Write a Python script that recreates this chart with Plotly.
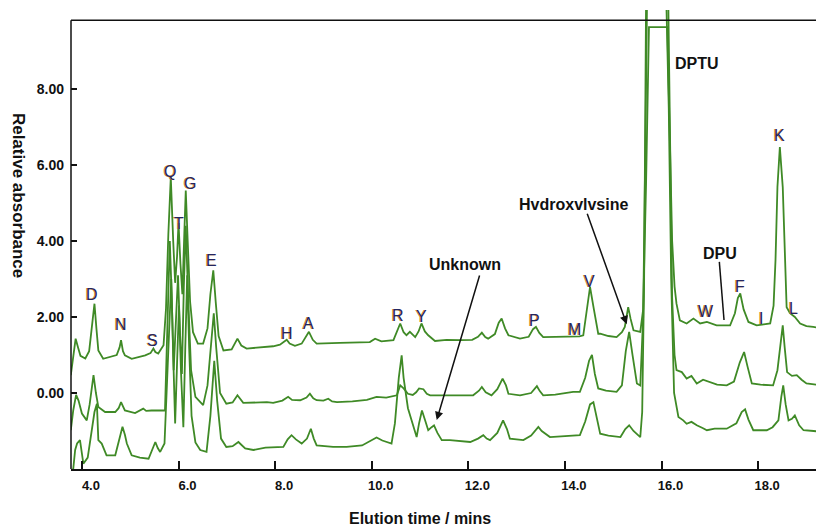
import plotly.graph_objects as go

# ---------------- data (elution time in min, relative absorbance) ----------------
t1_x = [3.77, 3.82, 3.87, 3.92, 3.97, 4.07, 4.15, 4.22, 4.26, 4.30, 4.34, 4.44, 4.61, 4.72, 4.78, 4.81,
        4.85, 4.89, 5.03, 5.15, 5.31, 5.42, 5.48, 5.52, 5.58, 5.69, 5.74, 5.79, 5.84, 5.89, 5.93, 5.97,
        6.00, 6.04, 6.08, 6.12, 6.15, 6.19, 6.24, 6.30, 6.40, 6.51, 6.60, 6.66, 6.72, 6.77, 6.83, 6.93,
        7.10, 7.22, 7.30, 7.41, 7.76, 7.96, 8.10, 8.24, 8.30, 8.41, 8.55, 8.70, 8.78, 8.86, 9.34, 9.70,
        9.96, 10.07, 10.20, 10.45, 10.52, 10.59, 10.66, 10.72, 10.79, 10.90, 10.97, 11.03, 11.10, 11.17,
        11.31, 11.55, 11.83, 12.08, 12.20, 12.28, 12.35, 12.41, 12.55, 12.63, 12.69, 12.76, 12.83, 13.07,
        13.25, 13.34, 13.40, 13.47, 13.55, 14.30, 14.38, 14.45, 14.52, 14.60, 14.69, 14.73, 14.90, 15.07,
        15.18, 15.24, 15.31, 15.36, 15.42, 15.56, 15.62, 15.68, 15.74, 16.12, 16.16, 16.22, 16.27, 16.31,
        16.38, 16.52, 16.66, 16.80, 16.94, 17.14, 17.42, 17.52, 17.58, 17.63, 17.70, 17.80, 17.97, 18.10,
        18.25, 18.32, 18.36, 18.40, 18.45, 18.51, 18.55, 18.59, 18.66, 18.76, 18.87, 19.00, 19.14, 19.36]
t1_y = [0.47, 1.00, 1.43, 1.20, 0.98, 0.91, 1.10, 1.90, 2.35, 1.70, 1.12, 0.90, 0.95, 1.00, 1.20, 1.39,
        1.10, 0.99, 0.90, 0.93, 0.99, 1.05, 1.17, 1.08, 1.04, 1.26, 2.20, 4.20, 5.68, 4.00, 2.90, 3.60,
        4.47, 3.40, 2.60, 4.20, 5.33, 4.00, 2.40, 1.60, 1.30, 1.30, 1.70, 2.60, 3.23, 2.40, 1.50, 1.12,
        1.15, 1.43, 1.25, 1.17, 1.21, 1.23, 1.27, 1.40, 1.30, 1.24, 1.30, 1.61, 1.40, 1.30, 1.32, 1.33,
        1.34, 1.43, 1.36, 1.39, 1.60, 1.83, 1.60, 1.52, 1.61, 1.47, 1.62, 1.83, 1.62, 1.52,
        1.37, 1.40, 1.39, 1.40, 1.48, 1.59, 1.47, 1.43, 1.55, 1.85, 1.96, 1.70, 1.52, 1.43,
        1.48, 1.68, 1.74, 1.58, 1.47, 1.49, 1.52, 2.20, 2.79, 2.20, 1.56, 1.56, 1.50, 1.47,
        1.60, 1.74, 2.26, 1.95, 1.65, 1.61, 2.20, 5.50, 9.63, 9.63, 7.00, 4.00, 2.80, 2.35,
        1.91, 1.83, 1.96, 1.83, 1.87, 1.78, 1.78, 2.10, 2.50, 2.62, 2.20, 1.87, 1.78, 1.80,
        1.83, 2.30, 3.50, 5.42, 6.47, 5.42, 3.60, 2.26, 2.10, 2.00, 1.83, 1.76, 1.74, 1.69]

t2_x = [3.77, 3.82, 3.88, 3.93, 4.00, 4.10, 4.16, 4.24, 4.29, 4.34, 4.48, 4.69, 4.76, 4.81, 4.86, 4.89,
        5.10, 5.20, 5.27, 5.33, 5.44, 5.72, 5.77, 5.82, 5.86, 5.90, 5.95, 5.99, 6.03, 6.07, 6.11, 6.15,
        6.20, 6.26, 6.35, 6.51, 6.60, 6.67, 6.73, 6.78, 6.86, 6.99, 7.12, 7.22, 7.34, 7.83, 7.96, 8.15,
        8.27, 8.35, 8.52, 8.65, 8.72, 8.79, 8.86, 9.00, 9.10, 9.18, 9.28, 9.60, 9.90, 10.10, 10.30, 10.52,
        10.59, 10.66, 10.75, 10.85, 10.92, 10.98, 11.07, 11.14, 11.21, 11.60, 12.10, 12.22, 12.28, 12.36,
        12.48, 12.60, 12.71, 12.78, 12.83, 13.07, 13.30, 13.42, 13.48, 13.55, 13.80, 14.17, 14.31, 14.42,
        14.50, 14.56, 14.62, 14.69, 14.85, 15.07, 15.18, 15.26, 15.33, 15.40, 15.49, 15.56, 15.62, 15.66,
        15.70, 16.14, 16.18, 16.22, 16.27, 16.31, 16.42, 16.52, 16.62, 16.73, 16.86, 17.00, 17.15, 17.35,
        17.50, 17.62, 17.71, 17.78, 17.87, 18.05, 18.31, 18.40, 18.47, 18.51, 18.55, 18.60, 18.70, 18.80,
        18.90, 19.00, 19.20, 19.36]
t2_y = [-0.98, -0.46, -0.05, -0.20, -0.54, -0.72, -0.30, 0.47, 0.00, -0.37, -0.50, -0.50, -0.40, -0.24, -0.38, -0.46,
        -0.53, -0.47, -0.41, -0.47, -0.46, -0.46, 1.50, 4.00, 2.50, 0.60, 2.00, 3.10, 1.60, 0.50, 2.80, 4.40,
        2.50, 0.60, -0.10, -0.32, 0.20, 1.30, 2.10, 1.20, 0.00, -0.28, -0.25, -0.06, -0.26, -0.24, -0.26, -0.20,
        -0.10, -0.18, -0.19, -0.12, -0.02, -0.14, -0.19, -0.20, -0.15, -0.22, -0.24, -0.22, -0.18, -0.10, -0.12, -0.06,
        0.20, 0.12, -0.02, -0.05, 0.02, 0.12, 0.10, -0.02, -0.06, -0.06, -0.06, 0.06, 0.16, 0.02,
        -0.06, 0.10, 0.38, 0.20, -0.02, -0.06, 0.00, 0.18, 0.05, -0.06, -0.04, 0.03, 0.03, 0.40,
        0.85, 1.00, 0.50, 0.12, 0.06, 0.03, 0.20, 1.10, 1.61, 1.00, 0.25, 0.20, 2.00, 6.00,
        10.30, 10.30, 6.00, 2.50, 1.00, 0.60, 0.55, 0.38, 0.45, 0.25, 0.35, 0.29, 0.22, 0.20,
        0.30, 0.80, 1.08, 0.70, 0.25, 0.22, 0.20, 0.60, 1.40, 1.78, 1.20, 0.55, 0.45, 0.47,
        0.35, 0.25, 0.22, 0.20]

t3_x = [3.77, 3.82, 3.86, 3.90, 3.96, 4.00, 4.03, 4.12, 4.20, 4.26, 4.31, 4.34, 4.41, 4.51, 4.69, 4.76,
        4.84, 4.89, 4.93, 5.03, 5.20, 5.38, 5.46, 5.52, 5.57, 5.62, 5.71, 5.76, 5.81, 5.85, 5.89, 5.93,
        5.97, 6.01, 6.05, 6.10, 6.14, 6.18, 6.22, 6.27, 6.35, 6.45, 6.58, 6.66, 6.74, 6.80, 6.88, 6.99,
        7.12, 7.24, 7.38, 7.55, 7.80, 8.17, 8.26, 8.34, 8.43, 8.55, 8.66, 8.74, 8.80, 8.86, 9.20, 9.48,
        9.80, 10.00, 10.10, 10.22, 10.41, 10.48, 10.56, 10.62, 10.66, 10.75, 10.86, 10.93, 10.98, 11.04,
        11.10, 11.17, 11.24, 11.29, 11.36, 11.45, 11.62, 12.04, 12.20, 12.31, 12.38, 12.45, 12.60, 12.72,
        12.80, 12.86, 13.14, 13.30, 13.45, 13.52, 13.69, 13.90, 14.31, 14.42, 14.52, 14.59, 14.66, 14.73,
        14.90, 15.15, 15.25, 15.33, 15.42, 15.50, 15.56, 15.60, 15.64, 15.68, 16.10, 16.15, 16.20, 16.26,
        16.35, 16.45, 16.52, 16.62, 16.73, 16.85, 16.94, 17.10, 17.35, 17.55, 17.66, 17.73, 17.80, 17.90,
        18.05, 18.18, 18.30, 18.42, 18.48, 18.52, 18.57, 18.63, 18.70, 18.76, 18.85, 18.94, 19.15, 19.36]
t3_y = [-2.30, -2.00, -1.50, -1.33, -1.24, -1.60, -1.86, -1.70, -1.00, -0.50, -0.28, -1.24, -1.33, -1.64, -1.64, -1.30,
        -0.89, -1.10, -1.33, -1.64, -1.70, -1.73, -1.50, -1.29, -1.45, -1.55, -1.33, 0.20, 2.20, 3.00, 1.00, -0.80,
        0.80, 2.30, 0.60, -0.90, 1.20, 3.10, 1.20, -0.60, -1.30, -1.50, -1.55, -0.60, 0.85, -0.20, -1.20, -1.42,
        -1.40, -1.29, -1.46, -1.50, -1.44, -1.42, -1.22, -1.11, -1.22, -1.33, -1.20, -0.94, -1.20, -1.38, -1.42, -1.42,
        -1.38, -1.25, -1.17, -1.25, -1.33, -0.80, 0.40, 0.99, 0.40, -0.40, -0.90, -1.16, -0.80, -0.46,
        -0.70, -0.98, -0.90, -0.85, -1.05, -1.24, -1.24, -1.29, -1.20, -1.11, -1.20, -1.24, -1.05, -0.72,
        -0.95, -1.20, -1.24, -1.12, -0.89, -1.00, -1.16, -1.14, -1.11, -0.75, -0.30, -0.24, -0.70, -1.07,
        -1.12, -1.16, -0.95, -0.85, -1.00, -1.10, -1.16, -0.50, 3.00, 10.30, 10.30, 7.50, 3.00, 0.00,
        -0.63, -0.72, -0.81, -0.76, -0.85, -0.92, -0.98, -0.94, -0.94, -0.80, -0.50, -0.43, -0.70, -0.98,
        -0.98, -0.98, -0.90, -0.72, -0.10, 0.20, -0.30, -0.72, -0.68, -0.59, -0.85, -0.98, -1.00, -1.03]

x_ticks = [4, 6, 8, 10, 12, 14, 16, 18]
x_tick_text = ["4.0", "6.0", "8.0", "10.0", "12.0", "14.0", "16.0", "18.0"]
y_ticks = [0, 2, 4, 6, 8]
y_tick_text = ["0.00", "2.00", "4.00", "6.00", "8.00"]

peak_names = ["D", "N", "S", "Q", "T", "G", "E", "H", "A", "R", "Y", "P", "M", "V", "W", "F", "I", "L", "K"]
peak_x = [4.20, 4.81, 5.46, 5.82, 6.00, 6.24, 6.69, 8.24, 8.69, 10.55, 11.04, 13.38, 14.19, 14.50, 16.92, 17.63, 18.06, 18.74, 18.45]
peak_y = [2.58, 1.79, 1.38, 5.83, 4.47, 5.52, 3.50, 1.57, 1.84, 2.05, 2.01, 1.92, 1.66, 2.93, 2.14, 2.80, 1.97, 2.23, 6.79]

black_labels = ["DPTU", "DPU", "Unknown", "Hvdroxvlvsine"]
black_x = [16.725, 17.21, 11.93, 14.17]
black_y = [8.68, 3.68, 3.37, 4.97]

# arrows: (tip x, tip y, tail x, tail y)
unknown_arrow = [11.346, -0.71, 12.242, 3.13]
hydroxy_arrow = [15.28, 1.81, 14.451, 4.76]
dpu_line = [17.197, 3.45, 17.294, 1.92]

X_RANGE = [3.774, 19.364]
Y_RANGE = [-2.0, 10.08]
FRAME_TOP = 9.81

GREEN = "#3f8a26"
FONT = "Arial, Liberation Sans, sans-serif"

fig = go.Figure()
for xs, ys in [(t3_x, t3_y), (t2_x, t2_y), (t1_x, t1_y)]:
    fig.add_trace(go.Scatter(x=xs, y=ys, mode="lines",
                             line=dict(color=GREEN, width=1.8),
                             hoverinfo="skip", showlegend=False))

annotations = []
for n, x, y in zip(peak_names, peak_x, peak_y):
    annotations.append(dict(x=x, y=y, xref="x", yref="y", text=n, showarrow=False,
                            xshift=-1, font=dict(family=FONT, size=16, color="#d8912e")))
    annotations.append(dict(x=x, y=y, xref="x", yref="y", text=n, showarrow=False,
                            font=dict(family=FONT, size=16, color="#242660")))
for n, x, y in zip(black_labels, black_x, black_y):
    annotations.append(dict(x=x, y=y, xref="x", yref="y", text="<b>%s</b>" % n, showarrow=False,
                            font=dict(family=FONT, size=16, color="#111111")))
for a in (unknown_arrow, hydroxy_arrow):
    annotations.append(dict(x=a[0], y=a[1], ax=a[2], ay=a[3], xref="x", yref="y",
                            axref="x", ayref="y", text="", showarrow=True,
                            arrowhead=2, arrowsize=1.1, arrowwidth=1.5, arrowcolor="#111111"))

annotations.append(dict(text="<b>Relative absorbance</b>", xref="paper", yref="paper",
                        x=-0.0704, y=0.595, xanchor="center", yanchor="middle",
                        textangle=90, showarrow=False,
                        font=dict(family=FONT, size=17, color="#111111")))
annotations.append(dict(text="<b>Elution time / mins</b>", xref="paper", yref="paper",
                        x=0.4635, y=-0.1068, xanchor="center", yanchor="middle", showarrow=False,
                        font=dict(family=FONT, size=16, color="#111111")))

shapes = [
    dict(type="line", xref="paper", yref="y", x0=0, x1=1, y0=FRAME_TOP, y1=FRAME_TOP,
         line=dict(color="#111111", width=1.5)),
    dict(type="line", xref="paper", yref="y", x0=0, x1=0, y0=Y_RANGE[0], y1=FRAME_TOP,
         line=dict(color="#111111", width=1.5)),
    dict(type="line", xref="x", yref="y", x0=dpu_line[0], y0=dpu_line[1], x1=dpu_line[2], y1=dpu_line[3],
         line=dict(color="#111111", width=1.5)),
]

# page body has an 8px default margin, so the figure is 8px smaller and margins compensate
fig.update_layout(
    width=816, height=520,
    margin=dict(l=63, r=0, t=2, b=59),
    paper_bgcolor="white", plot_bgcolor="white",
    annotations=annotations, shapes=shapes,
    xaxis=dict(range=X_RANGE, tickvals=x_ticks, ticktext=x_tick_text,
               ticks="inside", ticklen=8, tickwidth=1.5, tickcolor="#111111",
               showline=True, linecolor="#111111", linewidth=1.5,
               showgrid=False, zeroline=False, ticklabelshift=9, ticklabelstandoff=4,
               tickfont=dict(family=FONT, size=13, color="#111111", weight="bold")),
    yaxis=dict(range=Y_RANGE, tickvals=y_ticks, ticktext=y_tick_text,
               ticks="inside", ticklen=6, tickwidth=1.5, tickcolor="#111111",
               showline=False, showgrid=False, zeroline=False, ticklabelstandoff=6,
               tickfont=dict(family=FONT, size=14, color="#111111", weight="bold")),
)

fig.write_html("out.html")
